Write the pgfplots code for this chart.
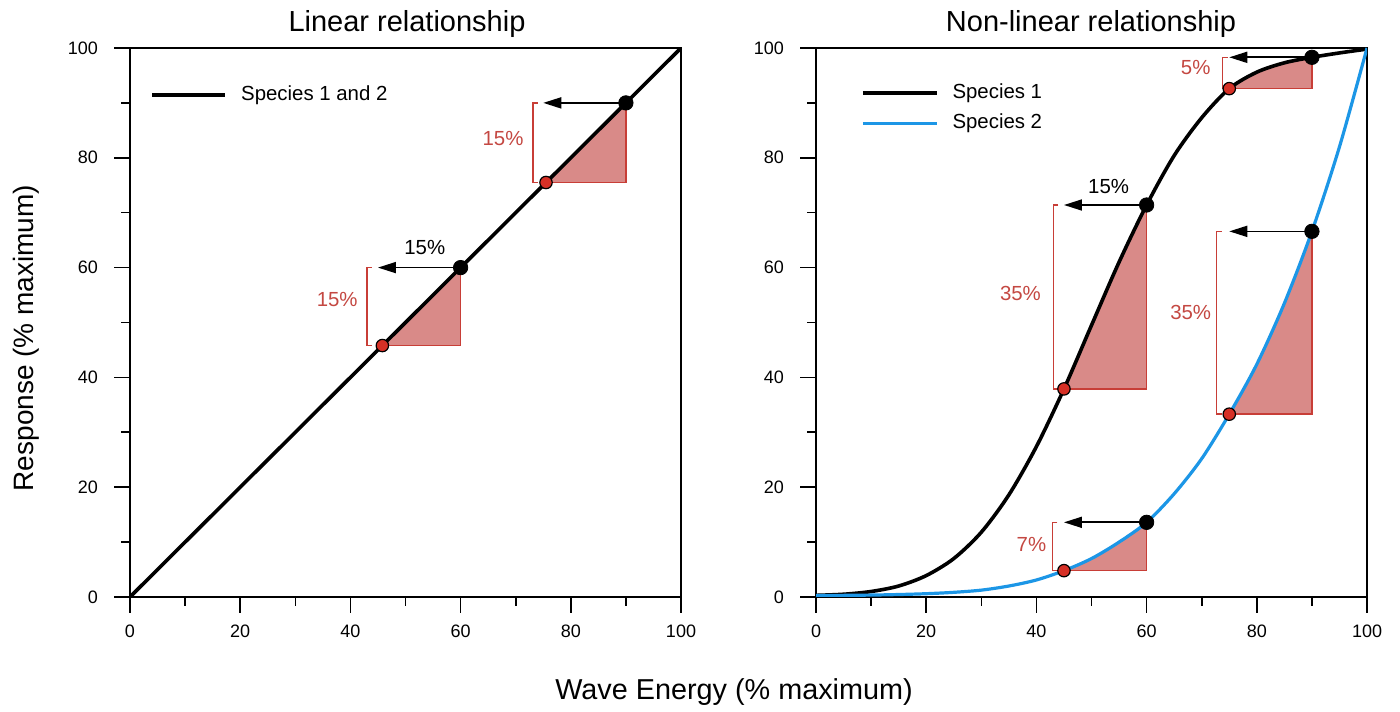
\documentclass[border=0pt]{standalone}
\usepackage{pgfplots}
\pgfplotsset{compat=1.18}
\usepackage{fontspec}
\setmainfont{Liberation Sans}
\usetikzlibrary{arrows.meta}

\definecolor{fillred}{RGB}{217,138,136}
\definecolor{edgered}{RGB}{200,62,55}
\definecolor{textred}{RGB}{196,72,66}
\definecolor{dotred}{RGB}{214,48,38}
\definecolor{sptwo}{RGB}{28,150,230}

\tikzset{note/.style={font=\fontsize{10.2}{12}\selectfont}}

\pgfplotsset{
  panel/.style={
    scale only axis, width=275.5pt, height=274.5pt,
    anchor=south west,
    xmin=0, xmax=100, ymin=0, ymax=100,
    xtick={0,20,...,100}, ytick={0,20,...,100},
    minor tick num=1,
    tick pos=left, tick align=outside,
    major tick length=8pt, minor tick length=4.5pt,
    axis line style={line width=1pt},
    every tick/.style={black, line width=0.8pt},
    ticklabel style={font=\fontsize{9}{10}\selectfont},
    xticklabel style={yshift=-2.2pt},
    yticklabel style={xshift=-4.5pt},
    /pgf/number format/assume math mode=true,
  },
  tri/.style={fill=fillred, draw=none},
  edge/.style={edgered, line width=0.8pt},
  arr/.style={black, line width=0.85pt, -{Triangle[length=9pt,width=5.5pt]}},
  bdot/.style={only marks, mark=*, mark size=3.6pt, black},
  rdot/.style={only marks, mark=*, mark size=3.1pt, mark options={fill=dotred, draw=black, line width=0.6pt}},
}

\begin{document}
\begin{tikzpicture}

% ---------- linear ----------
\begin{axis}[panel, at={(65pt,57pt)}]
\addplot[tri] coordinates {(45.8,45.8) (60,60) (60,45.8)};
\addplot[tri] coordinates {(75.5,75.5) (90,90) (90,75.5)};
\addplot[edge] coordinates {(60,60) (60,45.8) (45.8,45.8)};
\addplot[edge] coordinates {(90,90) (90,75.5) (75.5,75.5)};
\addplot[edge] coordinates {(43.9,60) (43.0,60) (43.0,45.8) (43.9,45.8)};
\addplot[edge] coordinates {(74.0,90) (73.1,90) (73.1,75.5) (74.0,75.5)};

\addplot[black, line width=1.8pt] coordinates {(0,0) (100,100)};

\addplot[arr] coordinates {(60,60) (45,60)};
\addplot[arr] coordinates {(90,90) (75,90)};
\addplot[bdot] coordinates {(60,60) (90,90)};
\addplot[rdot] coordinates {(45.8,45.8) (75.5,75.5)};

\node[note] at (axis cs:53.5,63.6) {15\%};
\node[note, text=textred] at (axis cs:37.6,54.1) {15\%};
\node[note, text=textred] at (axis cs:67.7,83.6) {15\%};

\draw[black, line width=1.8pt] (axis cs:4.0,91.4) -- (axis cs:17.2,91.4);
\node[note, anchor=west, inner sep=0pt] at (axis cs:20.1,91.4) {Species 1 and 2};
\end{axis}

% ---------- non-linear ----------
\begin{axis}[panel, at={(408pt,57pt)}]
\addplot[tri] coordinates {(45,37.9) (50,49.5) (55,61.0) (60,71.4) (60,37.9)};
\addplot[tri] coordinates {(75,92.6) (80,95.6) (85,97.3) (90,98.3) (90,92.6)};
\addplot[tri] coordinates {(45,4.8) (50,7.0) (55,10.0) (60,13.6) (60,4.8)};
\addplot[tri] coordinates {(75,33.3) (80,42.4) (85,53.5) (90,66.6) (90,33.3)};
\addplot[edge] coordinates {(60,71.4) (60,37.9) (45,37.9)};
\addplot[edge] coordinates {(90,98.3) (90,92.6) (75,92.6)};
\addplot[edge] coordinates {(60,13.6) (60,4.8) (45,4.8)};
\addplot[edge] coordinates {(90,66.6) (90,33.3) (75,33.3)};
\addplot[edge] coordinates {(44.0,71.4) (43.1,71.4) (43.1,37.9) (44.0,37.9)};
\addplot[edge] coordinates {(74.7,98.3) (73.8,98.3) (73.8,92.6) (74.7,92.6)};
\addplot[edge] coordinates {(43.8,13.6) (42.9,13.6) (42.9,4.8) (43.8,4.8)};
\addplot[edge] coordinates {(73.6,66.6) (72.7,66.6) (72.7,33.3) (73.6,33.3)};

% species 1
\addplot[black, line width=1.8pt, smooth] coordinates {
(0,0.3) (5,0.5) (10,1.0) (15,2.0) (20,3.9) (25,7.0) (30,11.8) (35,18.6)
(40,27.4) (45,37.9) (50,49.5) (55,61.0) (60,71.4) (65,80.4) (70,87.3)
(75,92.6) (80,95.6) (85,97.3) (90,98.3) (95,99.1) (100,99.8)};
% species 2
\addplot[sptwo, line width=1.6pt, smooth] coordinates {
(0,0.3) (5,0.3) (10,0.35) (15,0.45) (20,0.6) (25,0.85) (30,1.25) (35,2.0)
(40,3.1) (45,4.8) (50,7.0) (55,10.0) (60,13.6) (65,18.8) (70,25.2)
(75,33.3) (80,42.4) (85,53.5) (90,66.6) (95,82.0) (100,100)};

\addplot[arr] coordinates {(60,71.4) (45,71.4)};
\addplot[arr] coordinates {(90,98.3) (75,98.3)};
\addplot[arr] coordinates {(60,13.6) (45,13.6)};
\addplot[arr] coordinates {(90,66.6) (75,66.6)};
\addplot[bdot] coordinates {(60,71.4) (90,98.3) (60,13.6) (90,66.6)};
\addplot[rdot] coordinates {(45,37.9) (75,92.6) (45,4.8) (75,33.3)};

\node[note] at (axis cs:53.1,74.7) {15\%};
\node[note, text=textred] at (axis cs:68.9,96.4) {5\%};
\node[note, text=textred] at (axis cs:37.1,55.2) {35\%};
\node[note, text=textred] at (axis cs:68.0,51.9) {35\%};
\node[note, text=textred] at (axis cs:39.1,9.5) {7\%};

\draw[black, line width=1.8pt] (axis cs:8.5,91.8) -- (axis cs:22.0,91.8);
\node[note, anchor=west, inner sep=0pt] at (axis cs:24.7,91.8) {Species 1};
\draw[sptwo, line width=1.6pt] (axis cs:8.5,86.3) -- (axis cs:22.0,86.3);
\node[note, anchor=west, inner sep=0pt] at (axis cs:24.7,86.3) {Species 2};
\end{axis}

% titles and labels
\node[anchor=base, font=\fontsize{14.5}{17}\selectfont] at (203.5pt,339.5pt) {Linear relationship};
\node[anchor=base, font=\fontsize{14.5}{17}\selectfont] at (545.5pt,339.5pt) {Non-linear relationship};
\node[anchor=base, font=\fontsize{14.4}{17}\selectfont] at (367pt,6pt) {Wave Energy (\% maximum)};
\node[anchor=base, rotate=90, font=\fontsize{14}{17}\selectfont] at (16.5pt,186.5pt) {Response (\% maximum)};

\pgfresetboundingbox
\useasboundingbox (0,0) rectangle (700pt,355.5pt);
\end{tikzpicture}
\end{document}
